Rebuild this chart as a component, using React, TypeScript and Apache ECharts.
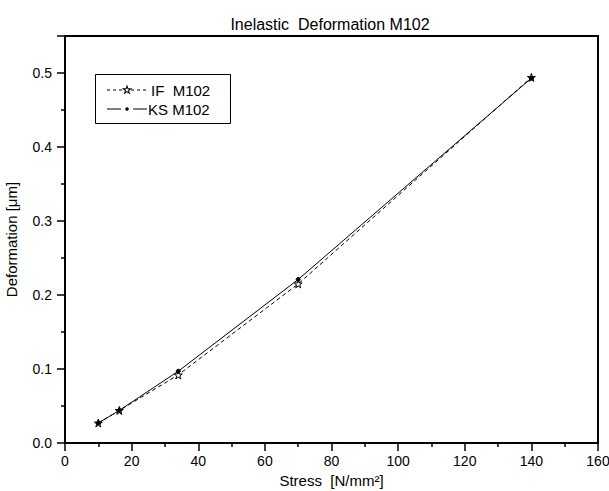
import React, { useEffect, useRef } from "react";
import * as echarts from "echarts";

const stress = [10, 16.3, 34, 70, 140];
const ifM102 = [0.027, 0.044, 0.092, 0.215, 0.494];
const ksM102 = [0.027, 0.044, 0.097, 0.221, 0.493];
const seriesNames = ["IF  M102", "KS M102"];

const STAR_D =
  "M50,0 L61.8,35.1 L97.6,34.5 L69.1,56.9 L79.4,90.5 L50,70 L20.6,90.5 L30.9,56.9 L2.4,34.5 L38.2,35.1 Z";
const STAR = "path://" + STAR_D;

export default function App() {
  const ref = useRef<HTMLDivElement>(null);
  useEffect(() => {
    echarts.graphic.registerShape("star5", echarts.graphic.extendPath(STAR_D, {}) as any);
    const chart = echarts.init(ref.current!, undefined, { renderer: "svg" });
    const font = "Liberation Sans, Arial, sans-serif";
    const lx = 107;
    const ly1 = 90;
    const ly2 = 109;
    chart.setOption({
      animation: false,
      backgroundColor: "#fff",
      title: {
        text: "Inelastic  Deformation M102",
        left: 325,
        top: 11,
        textAlign: "center",
        textStyle: { fontFamily: font, fontSize: 16, fontWeight: "normal", color: "#000" },
      },
      grid: {
        left: 65,
        right: 11,
        top: 36,
        bottom: 48,
        containLabel: false,
        outerBoundsMode: "none",
        show: true,
        borderColor: "#000",
        borderWidth: 2,
      },
      graphic: [
        { type: "rect", shape: { x: 95.5, y: 74.5, width: 135, height: 49 }, style: { fill: "#fff", stroke: "#000", lineWidth: 1 } },
        { type: "line", shape: { x1: lx, y1: ly1, x2: lx + 42, y2: ly1 }, style: { stroke: "#000", lineWidth: 1, lineDash: [3, 3] } },
        { type: "star5", x: lx + 16, y: ly1 - 4, scaleX: 0.08, scaleY: 0.08, style: { fill: "#fff", stroke: "#000", lineWidth: 1, strokeNoScale: true } },
        { type: "text", x: lx + 44, y: ly1, style: { text: seriesNames[0], fontFamily: font, fontSize: 15, fill: "#000", verticalAlign: "middle" } },
        { type: "line", shape: { x1: lx, y1: ly2, x2: lx + 40, y2: ly2 }, style: { stroke: "#000", lineWidth: 1 } },
        { type: "rect", shape: { x: lx + 14, y: ly2 - 5, width: 12, height: 10 }, style: { fill: "#fff" } },
        { type: "circle", shape: { cx: lx + 20, cy: ly2, r: 1.8 }, style: { fill: "#000" } },
        { type: "text", x: lx + 41, y: ly2, style: { text: seriesNames[1], fontFamily: font, fontSize: 15, fill: "#000", verticalAlign: "middle" } },
      ],
      xAxis: {
        type: "value",
        min: 0,
        max: 160,
        interval: 20,
        name: "Stress  [N/mm²]",
        nameLocation: "middle",
        nameGap: 30,
        nameTextStyle: { fontFamily: font, fontSize: 15, color: "#000" },
        axisLine: { lineStyle: { color: "#000", width: 2 } },
        axisTick: { inside: false, length: 8, lineStyle: { color: "#000", width: 1.5 } },
        minorTick: { show: true, splitNumber: 2, length: 4, lineStyle: { color: "#000", width: 1.5 } },
        axisLabel: { fontFamily: font, fontSize: 14, color: "#000", margin: 11 },
        splitLine: { show: false },
      },
      yAxis: {
        type: "value",
        min: 0,
        max: 0.55,
        interval: 0.1,
        name: "Deformation [μm]",
        nameLocation: "middle",
        nameGap: 46,
        nameTextStyle: { fontFamily: font, fontSize: 15, color: "#000" },
        axisLine: { show: true, lineStyle: { color: "#000", width: 2 } },
        axisTick: { inside: false, length: 8, lineStyle: { color: "#000", width: 1.5 } },
        minorTick: { show: true, splitNumber: 2, length: 4, lineStyle: { color: "#000", width: 1.5 } },
        axisLabel: {
          fontFamily: font,
          fontSize: 14,
          color: "#000",
          margin: 13,
          showMaxLabel: false,
          formatter: (v: number) => v.toFixed(1),
        },
        splitLine: { show: false },
      },
      series: [
        {
          name: seriesNames[0],
          type: "line",
          data: stress.map((x, i) => [x, ifM102[i]]),
          symbol: STAR,
          symbolSize: 8,
          lineStyle: { color: "#000", width: 1, type: [4, 3] },
          itemStyle: { color: "#fff", borderColor: "#000", borderWidth: 1 },
        },
        {
          name: seriesNames[1],
          type: "line",
          data: stress.map((x, i) => [x, ksM102[i]]),
          symbol: "circle",
          symbolSize: 4,
          lineStyle: { color: "#000", width: 1 },
          itemStyle: { color: "#000", borderColor: "#000" },
        },
      ],
    });
    return () => chart.dispose();
  }, []);
  return <div ref={ref} style={{ width: 609, height: 491, position: "absolute", left: 0, top: 0 }} />;
}
